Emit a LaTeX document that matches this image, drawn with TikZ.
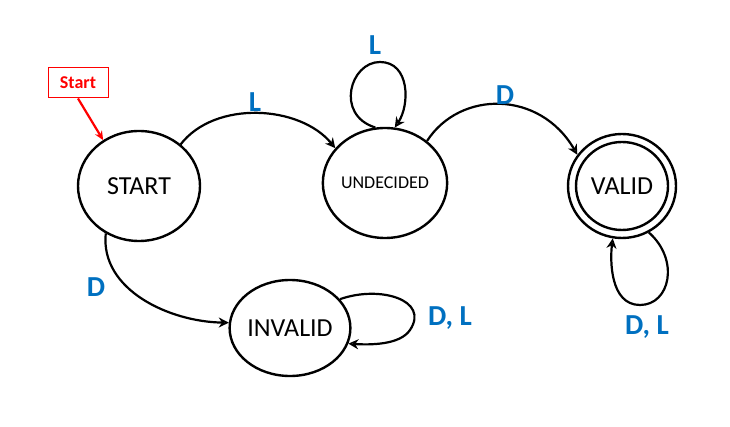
\documentclass[tikz,border=0pt]{standalone}
\usepackage{fontspec}
\setmainfont{Carlito}
\usetikzlibrary{arrows.meta,shapes.geometric}
\definecolor{lblue}{RGB}{0,112,192}
\begin{document}
\begin{tikzpicture}[x=1pt,y=-1pt,
  st/.style={draw,line width=2.4pt,ellipse,inner sep=0pt},
  arr/.style={line width=2.2pt,-{Stealth[length=10pt,width=10pt,open]}},
  lab/.style={text=lblue,font=\bfseries\fontsize{29}{29}\selectfont}]
\useasboundingbox (0,0) rectangle (730,427);
\node[st,minimum width=122pt,minimum height=110pt] (s) at (139,186) {\fontsize{26}{26}\selectfont START};
\node[st,minimum width=120pt,minimum height=110pt] (u) at (385,183) {\fontsize{18}{18}\selectfont UNDECIDED};
\node[st,minimum width=108pt,minimum height=104pt] (v) at (622,186) {};
\node[st,minimum width=92pt,minimum height=88pt] (vi) at (622,186) {\fontsize{26}{26}\selectfont VALID};
\node[st,minimum width=114pt,minimum height=96pt] (i) at (290,328) {\fontsize{26}{26}\selectfont INVALID};
\node[draw=red,line width=1pt,text=red,font=\bfseries\fontsize{18}{18}\selectfont,minimum width=60pt,minimum height=30pt] (b) at (78,83) {Start};
\draw[red,line width=2.2pt,-{Stealth[length=9pt,width=8pt]}] (b.south) -- (s.128);
\draw[arr] (s.45) .. controls (215,100) and (300,105) .. (u.145);
\node[lab] at (255,102) {L};
\draw[arr] (u.100) .. controls (335,115) and (350,62) .. (380,62) .. controls (410,62) and (410,105) .. (u.80);
\node[lab] at (375,45) {L};
\draw[arr] (u.45) .. controls (460,90) and (540,90) .. (v.145);
\node[lab] at (505,95) {D};
\draw[arr] (s.235) .. controls (100,290) and (170,322) .. (i.175);
\node[lab] at (96,287) {D};
\draw[arr] (i.30) .. controls (380,285) and (430,300) .. (410,330) .. controls (400,345) and (370,345) .. (i.345);
\node[lab] at (450,318) {D, L};
\draw[arr] (v.300) .. controls (680,260) and (670,305) .. (640,305) .. controls (610,305) and (610,260) .. (v.260);
\node[lab] at (647,327) {D, L};
\end{tikzpicture}
\end{document}
